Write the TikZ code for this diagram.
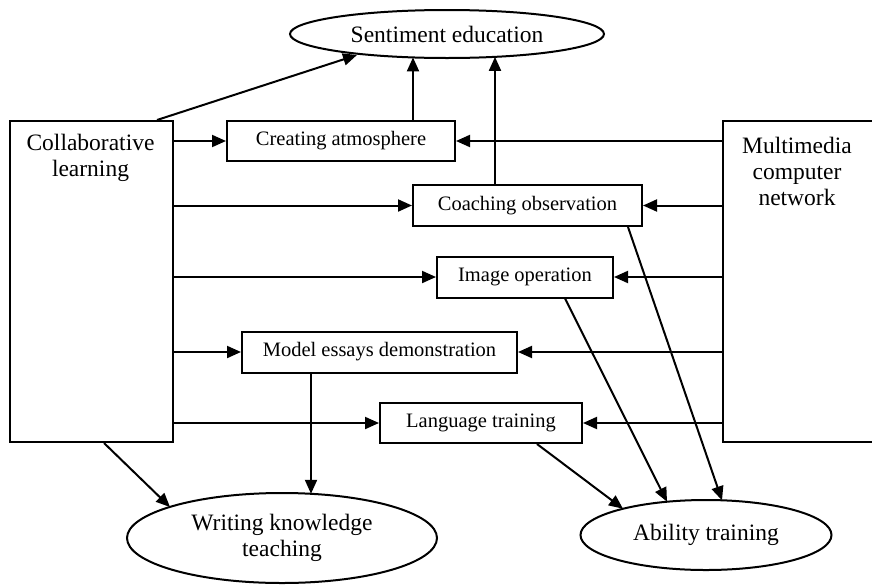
\documentclass[tikz,border=0pt]{standalone}
\usepackage{fontspec}
\setmainfont{Liberation Serif}
\usetikzlibrary{arrows.meta,calc,shapes.geometric}
\begin{document}
\begin{tikzpicture}[x=1pt,y=-1pt,
 box/.style={draw,line width=2pt,inner sep=0pt,font=\fontsize{20.5}{24}\selectfont},
 bigbox/.style={draw,line width=2pt,inner sep=0pt},
 oval/.style={draw,ellipse,line width=2pt,inner sep=0pt,align=center,font=\fontsize{23.5}{26}\selectfont},
 bigtxt/.style={align=center,font=\fontsize{23.5}{26}\selectfont,inner sep=0pt},
 arr/.style={line width=2pt,-{Triangle[length=14pt,width=12pt]}}]
\useasboundingbox[fill=white] (0,0) rectangle (872,584);
\begin{scope}
\clip (0,0) rectangle (872,584);
% ellipses
\node[oval,minimum width=314pt,minimum height=48pt] (sent) at (447,34) {Sentiment education};
\node[oval,minimum width=310pt,minimum height=90pt] (writ) at (282,538) {Writing knowledge\\teaching};
\node[oval,minimum width=251pt,minimum height=70pt] (abil) at (706,535) {Ability training};
% side boxes
\node[bigbox,minimum width=163pt,minimum height=321pt] (collab) at (91.5,281.5) {};
\node[bigtxt] (collabtxt) at (90.5,157.5) {Collaborative\\learning};
\node[bigbox,minimum width=157pt,minimum height=321pt] (multi) at (801.5,281.5) {};
\node[bigtxt] (multitxt) at (797,171) {Multimedia\\computer\\network};
% middle boxes
\node[box,minimum width=228pt,minimum height=40pt] (creat) at (341,141) {Creating atmosphere};
\node[box,minimum width=229pt,minimum height=41pt] (coach) at (527.5,205.5) {Coaching observation};
\node[box,minimum width=176pt,minimum height=41pt] (image) at (525,277) {Image operation};
\node[box,minimum width=275pt,minimum height=41pt] (model) at (379.5,352) {Model essays demonstration};
\node[box,minimum width=202pt,minimum height=40pt] (lang) at (481,423) {Language training};
% horizontal arrows from both side boxes
\foreach \t in {creat,coach,image,model,lang}{
  \draw[arr] (collab.east |- \t.west) -- (\t.west);
  \draw[arr] (multi.west |- \t.east) -- (\t.east);
}
% to sentiment education
\draw[arr] ($(collab.north)+(65.5,0)$) -- ($(sent.center)+(-90,21)$);
\draw[arr] ($(creat.north)+(72,0)$) -- ($(sent.center)+(-34,23.4)$);
\draw[arr] ($(coach.north)+(-32.5,0)$) -- ($(sent.center)+(48,22.9)$);
% to writing knowledge teaching
\draw[arr] ($(collab.south)+(12.5,0)$) -- ($(writ.center)+(-112,-31)$);
\draw[arr] ($(model.south)+(-68.5,0)$) -- ($(writ.center)+(29,-44.2)$);
% to ability training
\draw[arr] ($(lang.south)+(56,0)$) -- ($(abil.center)+(-83,-26.3)$);
\draw[arr] ($(image.south)+(40,0)$) -- ($(abil.center)+(-39,-33.3)$);
\draw[arr] ($(coach.south)+(100.5,0)$) -- ($(abil.center)+(16,-34.7)$);
\end{scope}
\end{tikzpicture}
\end{document}
